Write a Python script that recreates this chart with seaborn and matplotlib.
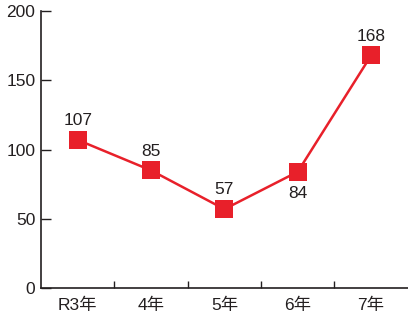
import matplotlib
matplotlib.use("Agg")
import matplotlib.pyplot as plt
import seaborn as sns
import pandas as pd

# data
years = ["R3年", "4年", "5年", "6年", "7年"]
counts = [107, 85, 57, 84, 168]
label_below = [False, False, False, True, False]

sns.set_style("ticks")
plt.rcParams['font.family'] = ['Liberation Sans', 'Noto Sans CJK JP', 'DejaVu Sans']

df = pd.DataFrame({"year": years, "count": counts})

fig = plt.figure(figsize=(4.08, 3.19), dpi=100)
ax = fig.add_axes([0.1005, 0.097, 0.899, 0.868])

red = "#e8202a"
sns.lineplot(data=df, x="year", y="count", ax=ax, color=red, linewidth=1.8,
             marker="s", markersize=12.5, markeredgewidth=0, sort=False)

for i, (v, below) in enumerate(zip(counts, label_below)):
    if below:
        ax.annotate(str(v), (i, v), xytext=(0, -10), textcoords="offset points",
                    ha="center", va="top", fontsize=12.5, color="#231f20")
    else:
        ax.annotate(str(v), (i, v), xytext=(0, 8.5), textcoords="offset points",
                    ha="center", va="bottom", fontsize=12.5, color="#231f20")

ax.set_xlim(-0.5, 4.5)
ax.set_ylim(0, 200)
ax.set_yticks([0, 50, 100, 150, 200])
ax.set_xticks(range(len(years)))
ax.set_xticklabels(years)
ax.set_xticks([0.5, 1.5, 2.5, 3.5], minor=True)
ax.tick_params(axis="x", which="major", length=0, pad=7, labelsize=12.5, colors="#231f20")
ax.tick_params(axis="x", which="minor", direction="in", length=5, width=1, color="#231f20")
ax.tick_params(axis="y", direction="in", length=7, width=1, labelsize=12.5, pad=4,
               colors="#231f20")
ax.set_xlabel("")
ax.set_ylabel("")
sns.despine(ax=ax)
for s in ["left", "bottom"]:
    ax.spines[s].set_color("#231f20")
    ax.spines[s].set_linewidth(1.2)
for m in ax.lines:
    m.set_clip_on(False)

fig.savefig("out.png", dpi=100)
